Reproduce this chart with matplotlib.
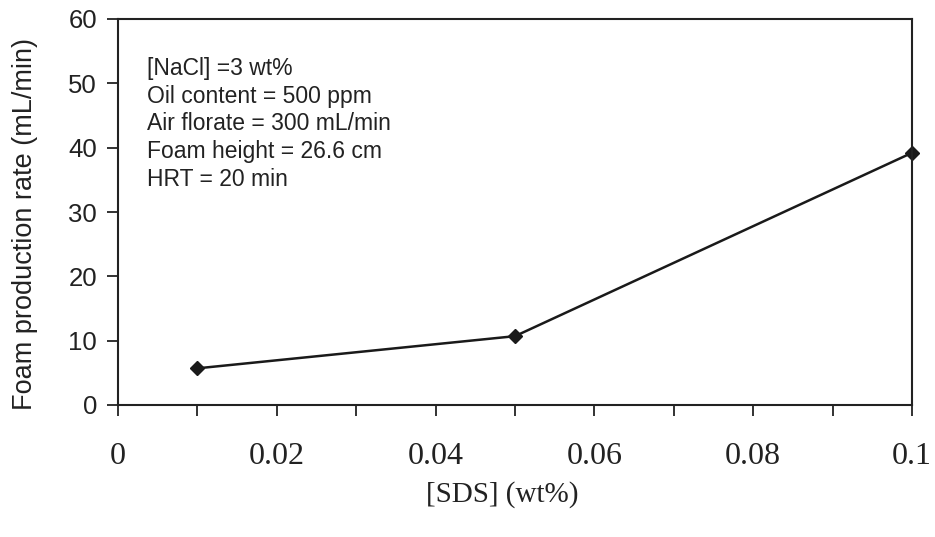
import matplotlib
matplotlib.use("Agg")
import matplotlib.pyplot as plt
from matplotlib.ticker import MultipleLocator, FixedLocator

sds = [0.01, 0.05, 0.1]
foam_rate = [5.7, 10.7, 39.2]
x_tick_vals = [0, 0.02, 0.04, 0.06, 0.08, 0.1]
x_tick_labels = ["0", "0.02", "0.04", "0.06", "0.08", "0.1"]
y_tick_vals = [0, 10, 20, 30, 40, 50, 60]
notes = ["[NaCl] =3 wt%", "Oil content = 500 ppm", "Air florate = 300 mL/min",
         "Foam height = 26.6 cm", "HRT = 20 min"]

W, H = 935, 537
fig = plt.figure(figsize=(W/100, H/100), dpi=100)
ax = fig.add_axes([118/W, 1-405/H, (912-118)/W, (405-19)/H])

ax.plot(sds, foam_rate, color="#1a1a1a", lw=1.8, marker="D", ms=7, clip_on=False)
ax.set_xlim(0, 0.1)
ax.set_ylim(0, 60)

for s in ax.spines.values():
    s.set_linewidth(1.5)
    s.set_color("#222222")

ax.xaxis.set_major_locator(FixedLocator(x_tick_vals))
ax.xaxis.set_minor_locator(MultipleLocator(0.01))
ax.set_xticklabels(x_tick_labels, fontfamily="Liberation Serif", fontsize=23)
ax.set_yticks(y_tick_vals)
ax.set_yticklabels([str(v) for v in y_tick_vals], fontfamily="Liberation Sans", fontsize=18.5)
ax.tick_params(axis="x", which="both", direction="out", length=8, width=1.3, pad=19, colors="#222222")
ax.tick_params(axis="y", direction="out", length=8, width=1.3, pad=7, colors="#222222")

ax.set_xlabel("[SDS] (wt%)", fontfamily="Liberation Serif", fontsize=21, color="#222222")
ax.xaxis.set_label_coords((502-118)/794, (405-495)/386)
ax.xaxis.label.set_va("center")
ax.set_ylabel("Foam production rate (mL/min)", fontfamily="Liberation Sans", fontsize=19.5, color="#222222")
ax.yaxis.set_label_coords((25-118)/794, (405-224)/386)
ax.yaxis.label.set_va("center")

line_y = [68, 96, 124, 152, 180]
for txt, yp in zip(notes, line_y):
    ax.text(147/W, 1-yp/H, txt, transform=fig.transFigure,
            fontfamily="Liberation Sans", fontsize=16.5, va="center", ha="left", color="#222222")

fig.savefig("out.png", dpi=100)
